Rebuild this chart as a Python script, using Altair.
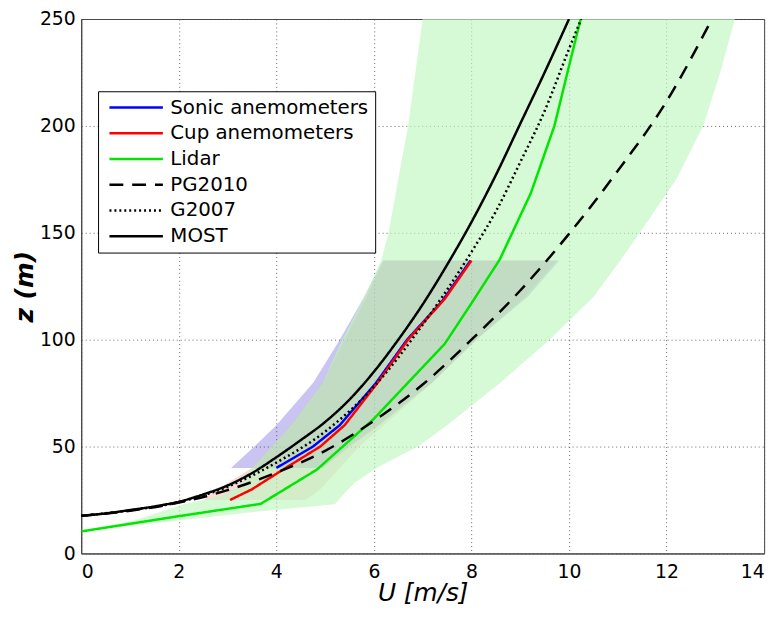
import altair as alt
import pandas as pd

# ---------------- data ----------------
series_names = ["Sonic anemometers", "Cup anemometers", "Lidar", "PG2010", "G2007", "MOST"]
series_colors = ["#0000ff", "#ff0000", "#00e600", "#000000", "#000000", "#000000"]
series_dashes = [[1, 0], [1, 0], [1, 0], [14, 9], [2, 3], [1, 0]]

sonic_u = [4.0, 4.75, 5.3, 6.05, 6.68, 7.4, 7.98]
sonic_z = [40, 50, 60, 80, 100, 118, 137]

cup_u = [3.05, 3.5, 4.05, 4.9, 5.4, 6.08, 6.7, 7.45, 8.0]
cup_z = [25, 30, 38, 50, 60, 80, 100, 119, 137]

lidar_u = [0.0, 1.96, 3.68, 4.83, 6.0, 7.45, 8.0, 8.58, 9.22, 9.7, 10.0, 10.24]
lidar_z = [10.3, 17.3, 23.2, 39.2, 63, 98, 117, 137.5, 168.7, 200, 228, 250]

pg_u = [0, 1, 2, 3, 4, 5, 6, 7, 8, 9, 10, 11, 12, 12.93]
pg_z = [17.6, 20.0, 23.8, 29.6, 37.8, 48, 62, 79, 100, 123, 149.5, 179, 211.5, 250]

g_u = [0, 1, 2, 3, 4, 5, 6, 7, 8, 8.5, 9, 9.5, 10, 10.25]
g_z = [17.6, 20.2, 24.0, 31.2, 42.5, 57, 78, 107, 141, 160, 183, 207, 236, 250]

most_u = [0, 0.5, 1, 1.5, 2, 2.5, 3, 3.5, 4, 4.5, 5, 5.5, 6, 6.5, 7, 7.5, 8, 8.5, 9, 9.5, 10.0]
most_z = [17.6, 18.7, 20.3, 22.0, 24.2, 27.6, 31.8, 37.6, 45, 53, 61.5, 72, 85, 100, 116.5, 135, 155, 177, 201, 225, 250]

# spread bands (left / right edge of U at each height)
sonic_band_z = [40, 50, 60, 80, 100, 120, 137]
sonic_band_lo = [3.07, 3.55, 4.0, 4.76, 5.3, 5.8, 6.18]
sonic_band_hi = [4.95, 5.5, 6.1, 7.2, 8.1, 9.15, 9.8]

cup_band_z = [25, 30, 40, 50, 60, 80, 100, 120, 137]
cup_band_lo = [2.5, 2.8, 3.5, 3.9, 4.3, 4.95, 5.4, 5.85, 6.2]
cup_band_hi = [4.6, 4.9, 5.3, 5.7, 6.2, 7.2, 8.1, 9.1, 9.75]

lidar_band_z = [10.5, 15, 20, 23, 27, 33, 40, 50, 60, 80, 100, 120, 137, 150, 175, 200, 225, 250]
lidar_band_lo = [0.0, 1.0, 1.7, 2.1, 2.9, 3.3, 3.5, 3.9, 4.3, 4.95, 5.35, 5.8, 6.15, 6.3, 6.5, 6.7, 6.85, 7.0]
lidar_band_hi = [0.05, 1.8, 3.8, 5.2, 5.35, 5.6, 6.05, 6.9, 7.5, 8.6, 9.6, 10.5, 11.05, 11.45, 12.2, 12.75, 13.1, 13.4]

x_ticks = [0, 2, 4, 6, 8, 10, 12, 14]
y_ticks = [0, 50, 100, 150, 200, 250]

# ---------------- tables ----------------
def line_df(name, u, z):
    return pd.DataFrame({"series": name, "u": u, "z": z})

lines = pd.concat([
    line_df("Sonic anemometers", sonic_u, sonic_z),
    line_df("Cup anemometers", cup_u, cup_z),
    line_df("Lidar", lidar_u, lidar_z),
    line_df("PG2010", pg_u, pg_z),
    line_df("G2007", g_u, g_z),
    line_df("MOST", most_u, most_z),
], ignore_index=True)

def band_df(z, lo, hi):
    return pd.DataFrame({"z": z, "lo": lo, "hi": hi})

FONT = "DejaVu Sans"

xscale = alt.Scale(domain=[0, 14], nice=False, zero=False)
yscale = alt.Scale(domain=[0, 250], nice=False, zero=False)

xaxis = alt.Axis(values=x_ticks, title="U [m/s]", titleFontStyle="italic", titleFontWeight="normal",
                 titleFontSize=25, titlePadding=0, labelFontSize=19, labelPadding=9)
yaxis = alt.Axis(values=y_ticks, title="z (m)", titleFontStyle="italic", titleFontWeight="bold",
                 titleFontSize=25, titlePadding=2, labelFontSize=19, labelPadding=6)

def X(field):
    return alt.X(field, type="quantitative", scale=xscale, axis=xaxis)

def Y(field):
    return alt.Y(field, type="quantitative", scale=yscale, axis=yaxis)

def band_layer(df, color, opacity):
    return alt.Chart(df).mark_area(orient="horizontal", color=color, opacity=opacity, clip=True).encode(
        y=Y("z"), x=X("lo"), x2="hi"
    )

legend = alt.Legend(
    orient="none", legendX=17, legendY=73, title=None,
    symbolType="M-1,0H5", symbolSize=324, symbolStrokeWidth=2.5, symbolOffset=4,
    labelFont=FONT, labelFontSize=20, labelColor="black", labelOffset=42, labelLimit=0,
    padding=6, rowPadding=5, strokeColor="black", fillColor="white", cornerRadius=0,
)

color_enc = alt.Color("series:N", scale=alt.Scale(domain=series_names, range=series_colors), legend=legend)
dash_enc = alt.StrokeDash("series:N", scale=alt.Scale(domain=series_names, range=series_dashes), legend=legend)

def line_layer(name, interp):
    return alt.Chart(lines).transform_filter(alt.datum.series == name).mark_line(
        strokeWidth=2.5, interpolate=interp, clip=True
    ).encode(x=X("u"), y=Y("z"), color=color_enc, strokeDash=dash_enc)

chart = alt.layer(
    band_layer(band_df(sonic_band_z, sonic_band_lo, sonic_band_hi), "#2814c8", 0.25),
    band_layer(band_df(cup_band_z, cup_band_lo, cup_band_hi), "#cd371e", 0.18),
    band_layer(band_df(lidar_band_z, lidar_band_lo, lidar_band_hi), "#bef7be", 0.65),
    line_layer("Lidar", "linear"),
    line_layer("Sonic anemometers", "linear"),
    line_layer("Cup anemometers", "linear"),
    line_layer("PG2010", "monotone"),
    line_layer("G2007", "monotone"),
    line_layer("MOST", "monotone"),
).properties(
    width=690, height=540,
    autosize=alt.AutoSizeParams(type="none"),
    padding={"left": 74, "top": 8, "right": 12, "bottom": 53},
).configure_view(
    stroke="#444", strokeWidth=1
).configure_axis(
    labelFont=FONT, titleFont=FONT, labelColor="black", titleColor="black",
    grid=True, gridColor="#555", gridDash=[1, 3], gridWidth=1, gridOpacity=0.9,
    ticks=False, domainColor="#444",
)

chart.save("out.html", embed_options={"renderer": "svg", "actions": False})
